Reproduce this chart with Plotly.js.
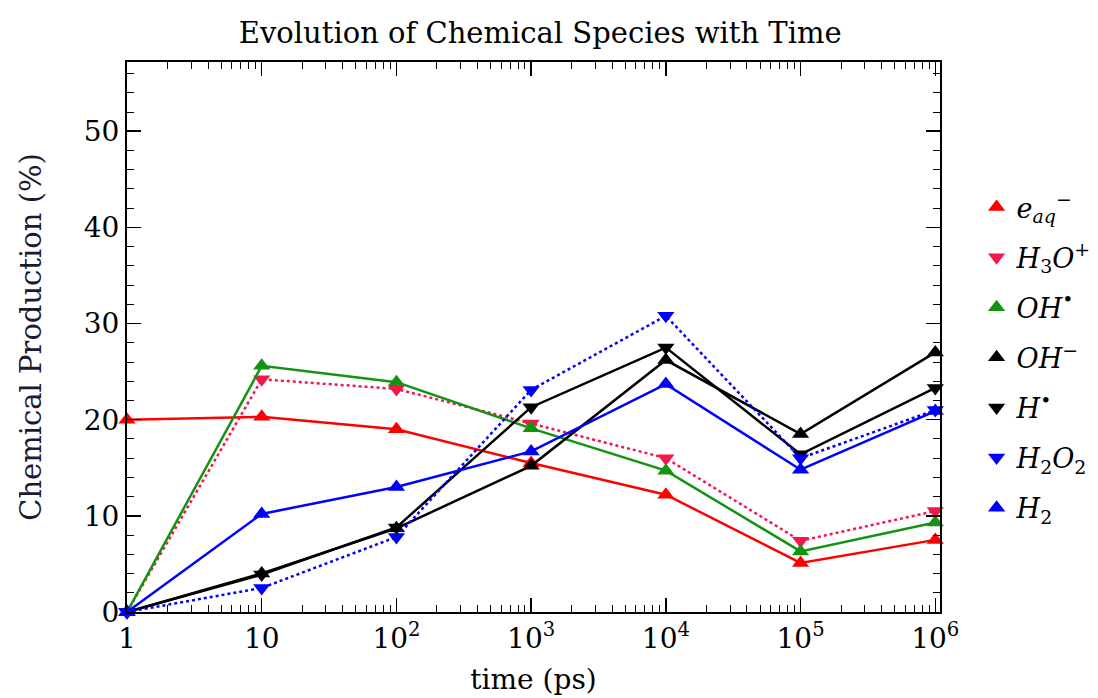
<!DOCTYPE html>
<html>
<head>
<meta charset="utf-8">
<script src="https://cdn.plot.ly/plotly-3.0.1.min.js"></script>
<style>html,body{margin:0;padding:0;background:#fff;}#chart{width:1098px;height:698px;}</style>
</head>
<body>
<div id="chart"></div>
<script>
const timePs = [1, 10, 100, 1000, 10000, 100000, 1000000];
const eAq  = [20.0, 20.3, 19.0, 15.5, 12.2, 5.1, 7.5];
const h3o  = [0, 24.2, 23.2, 19.6, 16.0, 7.4, 10.5];
const ohRad = [0, 25.6, 23.9, 19.1, 14.7, 6.3, 9.3];
const ohMinus = [0, 4.0, 8.7, 15.2, 26.2, 18.5, 27.0];
const hRad = [0, 3.9, 8.8, 21.3, 27.5, 16.4, 23.3];
const h2o2 = [0, 2.5, 7.8, 23.1, 30.8, 16.0, 21.0];
const h2   = [0, 10.2, 13.0, 16.7, 23.7, 14.8, 20.9];

const tickVals = [1, 10, 100, 1000, 10000, 100000, 1000000];
const tickText = ['1', '10', '10<sup>2</sup>', '10<sup>3</sup>', '10<sup>4</sup>', '10<sup>5</sup>', '10<sup>6</sup>'];

const series = [
  {y: eAq, name: '<i>e</i><sub><i>aq</i></sub><sup>−</sup>', color: '#ff0000', symbol: 'triangle-up', dash: 'solid'},
  {y: h3o, name: '<i>H</i><sub>3</sub><i>O</i><sup>+</sup>', color: '#f5174b', symbol: 'triangle-down', dash: 'dot'},
  {y: ohRad, name: '<i>OH</i><sup>•</sup>', color: '#129412', symbol: 'triangle-up', dash: 'solid'},
  {y: ohMinus, name: '<i>OH</i><sup>−</sup>', color: '#000000', symbol: 'triangle-up', dash: 'solid'},
  {y: hRad, name: '<i>H</i><sup>•</sup>', color: '#000000', symbol: 'triangle-down', dash: 'solid'},
  {y: h2o2, name: '<i>H</i><sub>2</sub><i>O</i><sub>2</sub>', color: '#0000ff', symbol: 'triangle-down', dash: 'dot'},
  {y: h2, name: '<i>H</i><sub>2</sub>', color: '#0000ff', symbol: 'triangle-up', dash: 'solid'}
];

const data = [];
series.forEach(function (s, i) {
  data.push({
    x: timePs, y: s.y, name: s.name, type: 'scatter', mode: 'lines+markers',
    cliponaxis: false, showlegend: false,
    line: {color: s.color, width: 2.5, dash: s.dash},
    marker: {color: s.color, symbol: s.symbol, size: 15}
  });
});
series.forEach(function (s, i) {
  data.push({
    x: [null], y: [null], name: s.name, type: 'scatter', mode: 'markers',
    legendgroup: 'g' + i, showlegend: true, hoverinfo: 'skip',
    marker: {color: s.color, symbol: s.symbol, size: 15}
  });
});

const fontFam = '"DejaVu Serif", "Liberation Serif", serif';
const layout = {
  width: 1098, height: 698,
  paper_bgcolor: '#fff', plot_bgcolor: '#fff',
  margin: {l: 127, r: 158, t: 62, b: 86, autoexpand: false},
  font: {family: fontFam, size: 24, color: '#000'},
  title: {text: 'Evolution of Chemical Species with Time', x: 0.492, xanchor: 'center', y: 0.953, yanchor: 'middle', font: {family: fontFam, size: 29, color: '#000'}},
  showlegend: true,
  legend: {x: 1.045, y: 0.78, xanchor: 'left', yanchor: 'top', font: {family: fontFam, size: 27}, itemwidth: 30, tracegroupgap: 12, bgcolor: 'rgba(0,0,0,0)'},
  xaxis: {
    type: 'log', range: [0, 6.035],
    tickvals: tickVals, ticktext: tickText,
    ticks: 'inside', ticklen: 14, tickwidth: 1.5, tickcolor: '#000',
    minor: {ticks: 'inside', ticklen: 7, tickwidth: 1, tickcolor: '#000', dtick: 'D1'},
    showline: true, linecolor: '#000', linewidth: 2, mirror: 'ticks',
    showgrid: false, zeroline: false,
    tickfont: {family: fontFam, size: 28, color: '#000'},
    title: {text: 'time (ps)', font: {family: fontFam, size: 28, color: '#000'}, standoff: 16}
  },
  yaxis: {
    range: [0, 57.2], dtick: 10, tick0: 0,
    ticks: 'inside', ticklen: 14, tickwidth: 1.5, tickcolor: '#000',
    minor: {ticks: 'inside', ticklen: 7, tickwidth: 1, tickcolor: '#000', dtick: 2},
    showline: true, linecolor: '#000', linewidth: 2, mirror: 'ticks',
    showgrid: false, zeroline: false,
    tickfont: {family: fontFam, size: 28, color: '#000'},
    title: {text: 'Chemical Production (%)', font: {family: fontFam, size: 29, color: '#1a1a33'}, standoff: 34}
  }
};

Plotly.newPlot('chart', data, layout, {displayModeBar: false, staticPlot: true});
</script>
</body>
</html>
